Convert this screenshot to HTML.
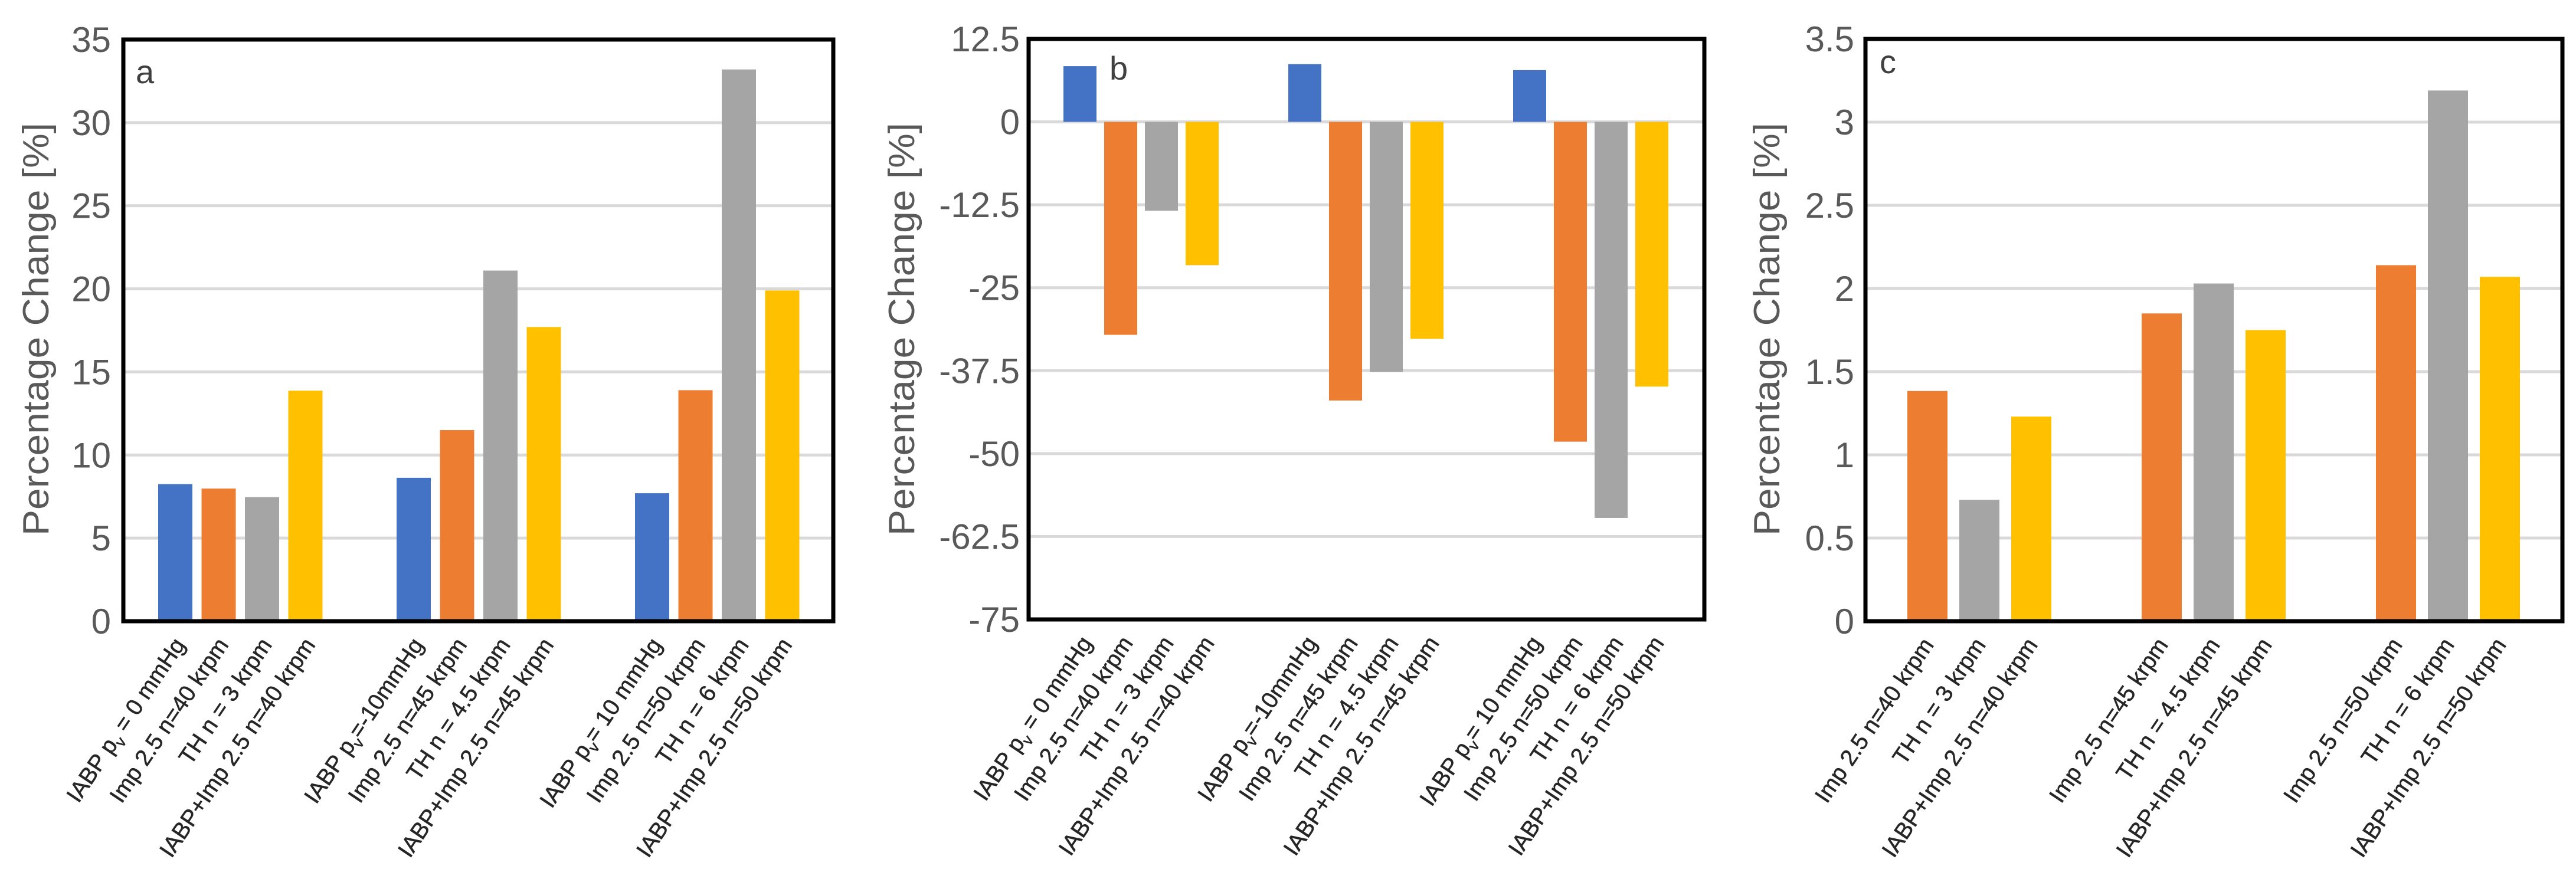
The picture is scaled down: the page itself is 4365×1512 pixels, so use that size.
<!DOCTYPE html>
<html><head><meta charset="utf-8"><style>
html,body{margin:0;padding:0;background:#fff;}
svg{display:block;}
</style></head><body>
<svg id="chart" width="4365" height="1512" viewBox="0 0 4365 1512" xmlns="http://www.w3.org/2000/svg" font-family="'Liberation Sans', sans-serif"></svg>
<script>
// ---- data ----
const groupsA = ["0 mmHg", "-10 mmHg", "10 mmHg"];
const blueA   = [8.25, 8.63, 7.7];
const orangeA = [7.98, 11.5, 13.9];
const grayA   = [7.47, 21.1, 33.2];
const yellowA = [13.87, 17.7, 19.9];
const ticksA  = [0, 5, 10, 15, 20, 25, 30, 35];

const blueB   = [8.4, 8.7, 7.8];
const orangeB = [-32.1, -42.0, -48.2];
const grayB   = [-13.4, -37.7, -59.7];
const yellowB = [-21.6, -32.7, -39.9];
const ticksB  = [12.5, 0, -12.5, -25, -37.5, -50, -62.5, -75];
const tickLabelsB = ["12.5", "0", "-12.5", "-25", "-37.5", "-50", "-62.5", "-75"];

const orangeC = [1.384, 1.85, 2.14];
const grayC   = [0.73, 2.03, 3.19];
const yellowC = [1.23, 1.75, 2.07];
const ticksC  = [0, 0.5, 1, 1.5, 2, 2.5, 3, 3.5];
const tickLabelsC = ["0", "0.5", "1", "1.5", "2", "2.5", "3", "3.5"];

const labelsABG = [
  ["IABP p|v| = 0 mmHg", "Imp 2.5 n=40 krpm", "TH n = 3 krpm", "IABP+Imp 2.5 n=40 krpm"],
  ["IABP p|v|=-10mmHg", "Imp 2.5 n=45 krpm", "TH n = 4.5 krpm", "IABP+Imp 2.5 n=45 krpm"],
  ["IABP p|v|= 10 mmHg", "Imp 2.5 n=50 krpm", "TH n = 6 krpm", "IABP+Imp 2.5 n=50 krpm"]
];
const labelsC = [
  ["Imp 2.5 n=40 krpm", "TH n = 3 krpm", "IABP+Imp 2.5 n=40 krpm"],
  ["Imp 2.5 n=45 krpm", "TH n = 4.5 krpm", "IABP+Imp 2.5 n=45 krpm"],
  ["Imp 2.5 n=50 krpm", "TH n = 6 krpm", "IABP+Imp 2.5 n=50 krpm"]
];
const colors = ["#4472c4", "#ed7d31", "#a5a5a5", "#ffc000"];
const seriesNames = ["iabp", "impella", "tandemheart", "iabp-impella"];

const NS = "http://www.w3.org/2000/svg";
const svg = document.getElementById("chart");
function mk(tag, attrs, parent) {
  const e = document.createElementNS(NS, tag);
  for (const k in attrs) e.setAttribute(k, attrs[k]);
  (parent || svg).appendChild(e);
  return e;
}

function panel(cfg) {
  const g = mk("g", {});
  
  
  const y = v => cfg.top + (cfg.max - v) / (cfg.max - cfg.min) * (cfg.bottom - cfg.top);
  cfg.ticks.forEach((t, i) => {
    if (t !== cfg.max && t !== cfg.min) {
      const l = mk("line", {x1: cfg.left, x2: cfg.right, y1: y(t), y2: y(t), stroke: "#d9d9d9", "stroke-width": 5}, g);
      
      
    }
    const tx = mk("text", {x: cfg.tickX, y: y(t) + 21, "text-anchor": "end", "font-size": 60, fill: "#595959"}, g);
    tx.textContent = cfg.tickLabels[i];
    
    
  });
  const x = (gi, si) => cfg.x0 + gi * cfg.groupStep + si * cfg.barStep;
  cfg.series.forEach((vals, si) => {
    vals.forEach((v, gi) => {
      const cx = x(gi, si);
      const y0 = y(0), y1 = y(v);
      const r = mk("rect", {x: cx - cfg.barW / 2, y: Math.min(y0, y1), width: cfg.barW, height: Math.abs(y1 - y0), fill: cfg.colors[si]}, g);
      
      
      const lab = cfg.labels[gi][si];
      const ax = cx + cfg.labOff, ay = cfg.bottom + 40;
      const t = mk("text", {x: ax, y: ay, "text-anchor": "end", "font-size": 39, fill: "#262626", stroke: "#262626", "stroke-width": 0.6, transform: `rotate(-56 ${ax} ${ay})`}, g);
      const parts = lab.split("|");
      parts.forEach((p, pi) => {
        const ts = mk("tspan", pi === 1 ? {"font-size": 26, dy: 9} : (pi === 2 ? {dy: -9} : {}), t);
        ts.textContent = p;
      });
      
      
    });
  });
  const f = mk("rect", {x: cfg.left, y: cfg.top, width: cfg.right - cfg.left, height: cfg.bottom - cfg.top, fill: "none", stroke: "#000", "stroke-width": 7}, g);
  
  
  const le = mk("text", {x: cfg.letterX, y: cfg.letterY, "font-size": 56, fill: "#404040"}, g);
  le.textContent = cfg.id;
  
  
  const cy = 558;
  const yt = mk("text", {x: cfg.titleX, y: cy, "text-anchor": "middle", "font-size": 62, fill: "#595959", textLength: 700, lengthAdjust: "spacingAndGlyphs", transform: `rotate(-90 ${cfg.titleX} ${cy}) translate(0 21)`}, g);
  yt.textContent = "Percentage Change [%]";
  
  
}

panel({id: "a", left: 209, right: 1412, top: 67, bottom: 1053, min: 0, max: 35,
  ticks: ticksA, tickLabels: ticksA.map(String), tickX: 188,
  series: [blueA, orangeA, grayA, yellowA], colors: colors, names: seriesNames, labels: labelsABG,
  x0: 297, groupStep: 404, barStep: 73.5, barW: 58, labOff: 18,
  letterX: 230, letterY: 141, titleX: 61});

panel({id: "b", left: 1743, right: 2888, top: 66, bottom: 1050, min: -75, max: 12.5,
  ticks: ticksB, tickLabels: tickLabelsB, tickX: 1728,
  series: [blueB, orangeB, grayB, yellowB], colors: colors, names: seriesNames, labels: labelsABG,
  x0: 1830, groupStep: 381, barStep: 69, barW: 56, labOff: 22,
  letterX: 1880, letterY: 135, titleX: 1528});

panel({id: "c", left: 3161, right: 4342, top: 66, bottom: 1053, min: 0, max: 3.5,
  ticks: ticksC, tickLabels: tickLabelsC, tickX: 3142,
  series: [orangeC, grayC, yellowC], colors: colors.slice(1), names: seriesNames.slice(1), labels: labelsC,
  x0: 3266, groupStep: 397, barStep: 88, barW: 68, labOff: 12,
  letterX: 3185, letterY: 124, titleX: 2994});
</script>
</body></html>
